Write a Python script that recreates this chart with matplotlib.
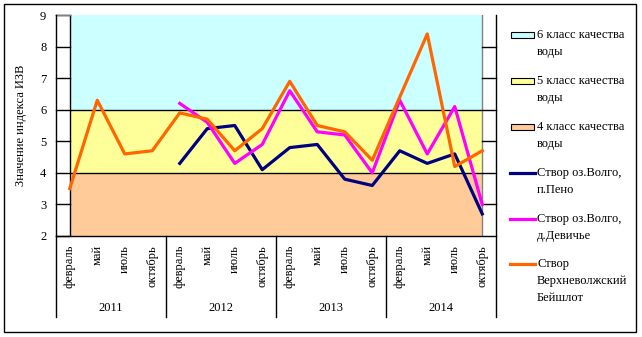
import numpy as np
import matplotlib.pyplot as plt
from matplotlib.patches import Rectangle

# Data
months = ['февраль', 'май', 'июль', 'октябрь'] * 4
years = ['2011', '2012', '2013', '2014']
band_edges = [2, 4, 6, 9]  # 4, 5, 6 класс качества воды
band_labels = ['4 класс качества\nводы', '5 класс качества\nводы', '6 класс качества\nводы']
nan = np.nan
peno = [nan, nan, nan, nan, 4.3, 5.4, 5.5, 4.1, 4.8, 4.9, 3.8, 3.6, 4.7, 4.3, 4.6, 2.7]
devichye = [nan, nan, nan, nan, 6.2, 5.6, 4.3, 4.9, 6.6, 5.3, 5.2, 4.0, 6.3, 4.6, 6.1, 3.0]
beyshlot = [3.5, 6.3, 4.6, 4.7, 5.9, 5.7, 4.7, 5.4, 6.9, 5.5, 5.3, 4.4, 6.4, 8.4, 4.2, 4.7]
series_labels = ['Створ оз.Волго,\nп.Пено', 'Створ оз.Волго,\nд.Девичье',
                 'Створ\nВерхневолжский\nБейшлот']

band_colors = ['#FFCC99', '#FFFF99', '#CCFFFF']
line_colors = ['#000080', '#FF00FF', '#FF6600']

plt.rcParams['font.family'] = ['Liberation Serif', 'DejaVu Serif']
plt.rcParams['font.size'] = 9

W, H = 642, 337
fig = plt.figure(figsize=(W / 100, H / 100), dpi=100)
ax = fig.add_axes([56 / W, (H - 236) / H, 440 / W, 221 / H])
n = len(months)
x = np.arange(n)
ax.set_xlim(-0.5, n - 0.5)
ax.set_ylim(2, 9)
for s in ax.spines.values():
    s.set_visible(False)

# quality class bands
for i in range(3):
    ax.fill_between([0, n - 1], band_edges[i], band_edges[i + 1],
                    color=band_colors[i], lw=0, zorder=0)
for y in band_edges[1:-1]:
    ax.plot([0, n - 1], [y, y], color='black', lw=1, zorder=1)
ax.plot([0, 0], [2, 9], color='black', lw=1, zorder=1)
ax.plot([n - 1, n - 1], [2, 9], color='#808080', lw=1, zorder=1)

# frame and tick marks
ax.plot([-0.5, n - 0.5], [2, 2], color='black', lw=1, clip_on=False)
for y in range(2, 10):
    ax.plot([-0.5, 0], [y, y], color='black', lw=1, clip_on=False)
    if 2 < y < 9:
        ax.plot([n - 1, n - 0.5], [y, y], color='black', lw=1, clip_on=False)
ax.plot([-0.5, 0], [9, 9], color='#808080', lw=1, clip_on=False)

tr = ax.get_xaxis_transform()
for xs in [-0.5, n - 0.5]:
    ax.plot([xs, xs], [1, -0.3665], color='black', lw=1, transform=tr, clip_on=False)
for xs in [3.5, 7.5, 11.5]:
    ax.plot([xs, xs], [0, -0.3665], color='black', lw=1, transform=tr, clip_on=False)

# lines
for vals, c in zip([peno, devichye, beyshlot], line_colors):
    ax.plot(x, vals, color=c, lw=2.3, zorder=3, clip_on=False)

# axis labels
ax.set_xticks([])
ax.set_yticks(range(2, 10))
ax.tick_params(axis='y', length=0, pad=7)
ax.set_ylabel('Значение индекса ИЗВ', labelpad=9)
for i, m in enumerate(months):
    ax.text(i, -0.04, m, rotation=90, ha='center', va='top', transform=tr)
for j, yr in enumerate(years):
    ax.text(4 * j + 1.5, -0.326, yr, ha='center', va='center', transform=tr)

# legend and outer border drawn in pixel coordinates
ov = fig.add_axes([0, 0, 1, 1])
ov.set_xlim(0, W)
ov.set_ylim(H, 0)
ov.axis('off')
ov.patch.set_alpha(0)
ov.add_patch(Rectangle((4, 4), 632, 328, fill=False, ec='black', lw=1))

leg_y = [35, 81, 127, 173, 219, 264]
leg_items = [(band_labels[2], band_colors[2], 'patch'),
             (band_labels[1], band_colors[1], 'patch'),
             (band_labels[0], band_colors[0], 'patch')]
leg_items += [(lab, c, 'line') for lab, c in zip(series_labels, line_colors)]
for yy, (lab, c, kind) in zip(leg_y, leg_items):
    if kind == 'patch':
        ov.add_patch(Rectangle((511, yy - 3), 23, 6, fc=c, ec='black', lw=0.8))
    else:
        ov.plot([510, 535], [yy, yy], color=c, lw=2.3)
    for k, line in enumerate(lab.split('\n')):
        ov.text(537, yy + k * 17, line, ha='left', va='center')

fig.savefig('out.png', dpi=100)
